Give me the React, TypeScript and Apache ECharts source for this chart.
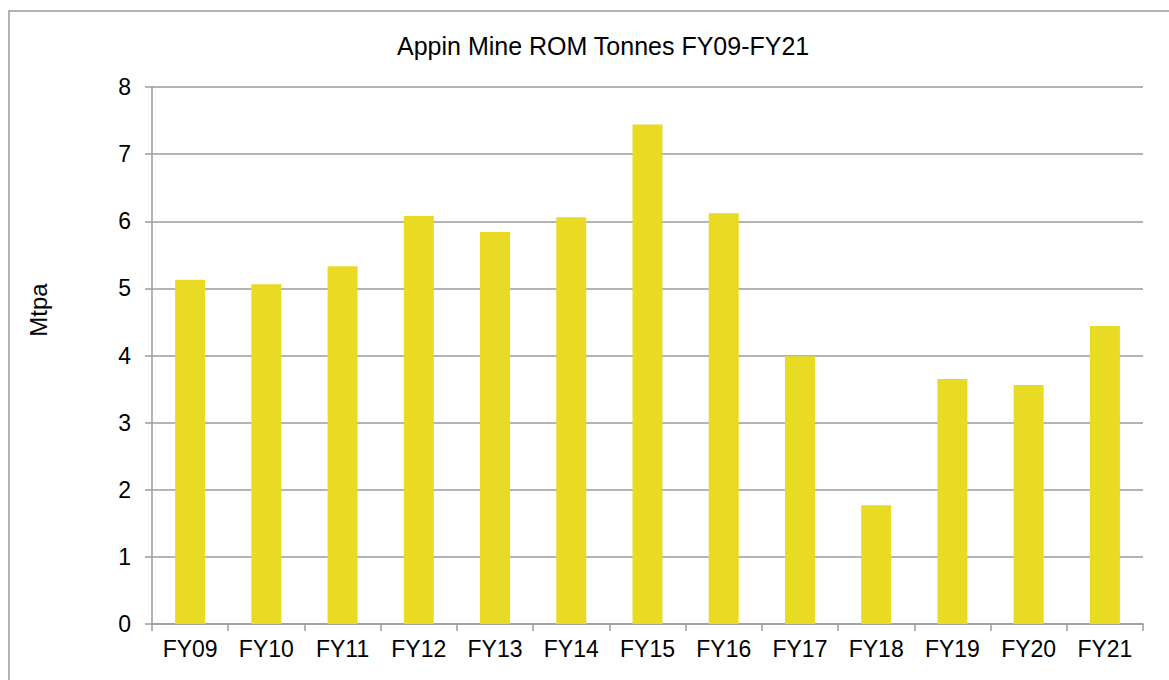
import React, { useEffect, useRef } from "react";
import * as echarts from "echarts";

const categories = ["FY09", "FY10", "FY11", "FY12", "FY13", "FY14", "FY15", "FY16", "FY17", "FY18", "FY19", "FY20", "FY21"];
const romTonnes = [5.13, 5.06, 5.33, 6.08, 5.84, 6.06, 7.44, 6.12, 3.99, 1.77, 3.65, 3.56, 4.44];
const yTicks = [0, 1, 2, 3, 4, 5, 6, 7, 8];

const FONT = "Liberation Sans, Arial, sans-serif";
const GREY = "#9b9b9b";

export default function App() {
  const ref = useRef<HTMLDivElement>(null);

  useEffect(() => {
    if (!ref.current) return;
    const chart = echarts.init(ref.current, undefined, { renderer: "svg" });
    chart.setOption({
      animation: false,
      backgroundColor: "#ffffff",
      title: {
        text: "Appin Mine ROM Tonnes FY09-FY21",
        left: 392,
        top: 28,
        textStyle: { fontFamily: FONT, fontSize: 25, fontWeight: "normal", color: "#000" },
      },
      graphic: [
        {
          type: "rect",
          shape: { x: 9, y: 11, width: 1180, height: 700 },
          style: { fill: "none", stroke: GREY, lineWidth: 1.5 },
          silent: true,
        },
        {
          type: "text",
          x: 38,
          y: 310,
          rotation: Math.PI / 2,
          style: {
            text: "Mtpa",
            fontFamily: FONT,
            fontSize: 24,
            fill: "#000",
            align: "center",
            verticalAlign: "middle",
          },
        },
      ],
      grid: { left: 152, right: 26, top: 87, bottom: 56, containLabel: false },
      xAxis: {
        type: "category",
        data: categories,
        axisLine: { show: true, lineStyle: { color: GREY, width: 1.5 } },
        axisTick: { show: true, length: 7, lineStyle: { color: GREY, width: 1.5 } },
        axisLabel: { margin: 13, fontFamily: FONT, fontSize: 23, color: "#000" },
      },
      yAxis: {
        type: "value",
        min: yTicks[0],
        max: yTicks[yTicks.length - 1],
        interval: 1,
        axisLine: { show: true, lineStyle: { color: GREY, width: 1.5 } },
        axisTick: { show: true, length: 7, lineStyle: { color: GREY, width: 1.5 } },
        axisLabel: { margin: 21, fontFamily: FONT, fontSize: 23, color: "#000" },
        splitLine: { show: true, lineStyle: { color: GREY, width: 1.5 } },
      },
      series: [
        {
          type: "bar",
          data: romTonnes,
          barWidth: 30,
          itemStyle: { color: "#E9DA23" },
        },
      ],
    });
    return () => chart.dispose();
  }, []);

  return (
    <div
      ref={ref}
      style={{ position: "fixed", left: 0, top: 0, width: 1169, height: 680 }}
    />
  );
}
